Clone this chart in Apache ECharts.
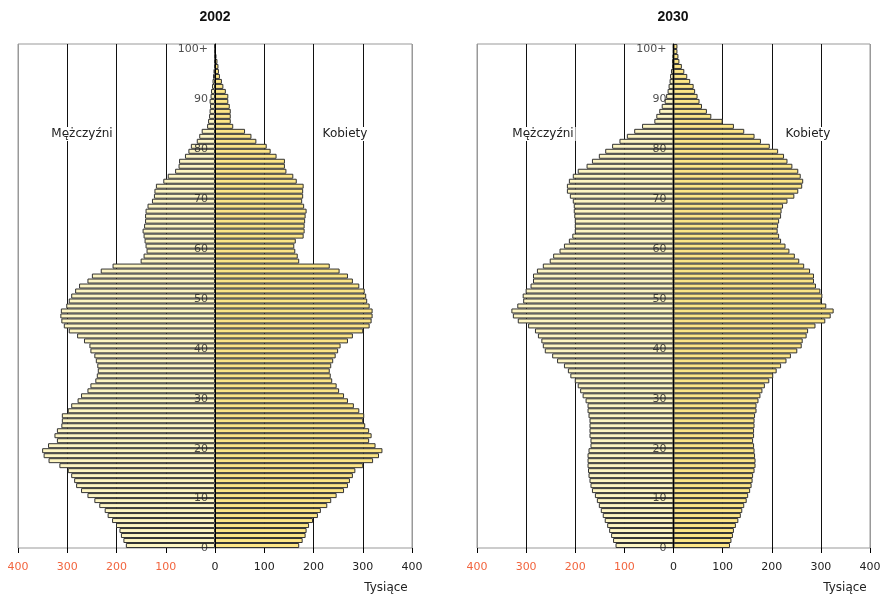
<!DOCTYPE html>
<html><head><meta charset="utf-8">
<script src="https://cdn.jsdelivr.net/npm/echarts@6/dist/echarts.min.js"></script>
<style>html,body{margin:0;padding:0;background:#fff}#c{width:882px;height:595px}</style>
</head><body><div id="c"></div>
<script>
// Age categories (0 .. 99, 100+)
const ages = [];
for (let a = 0; a < 100; a++) ages.push(String(a));
ages.push('100+');
// Age tick labels shown on the axis
const ageTickLabels = ['0','10','20','30','40','50','60','70','80','90','100+'];

// 2002 — men (thousands), ages 0..100+
const men2002 = [181,186,191,194,201,209,218,224,235,245,
  259,272,282,286,292,299,316,338,348,351,
  339,321,326,321,312,311,311,299,292,279,
  272,259,253,243,240,238,239,242,245,253,
  255,266,280,297,307,312,314,313,302,297,
  292,284,276,259,250,232,208,151,145,139,
  141,143,145,147,144,142,142,141,137,128,
  124,123,120,105,96,81,74,73,61,54,
  49,37,32,27,16,14,12,11,10,11,
  9,8,6,5,4,3,2,2,1,1,1];
// 2002 — women
const women2002 = [171,178,184,186,191,199,209,215,228,236,
  247,262,270,274,280,285,301,321,333,340,
  326,313,318,313,305,301,303,293,282,270,
  262,252,247,238,235,233,236,240,245,250,
  255,270,280,301,314,318,320,320,314,309,
  307,304,293,280,270,253,233,171,168,163,
  161,164,180,182,182,183,184,186,181,177,
  179,179,180,166,159,145,142,142,125,113,
  105,84,74,61,37,32,32,32,30,27,
  27,22,17,14,10,8,7,5,3,2,2];
// 2030 — men
const men2030 = [118,123,127,131,135,140,144,148,152,156,
  160,166,169,171,173,174,175,175,175,173,
  169,169,171,171,171,171,173,175,175,179,
  185,190,195,201,210,215,223,237,247,262,
  266,269,276,282,296,317,327,330,318,306,
  307,301,291,286,286,278,266,252,245,232,
  223,213,206,201,201,201,202,203,203,205,
  211,217,217,213,205,195,177,166,152,139,
  125,110,95,80,64,39,35,29,24,18,
  15,12,10,8,7,5,3,3,2,1,1];
// 2030 — women
const women2030 = [115,118,121,123,127,132,137,140,144,149,
  152,156,159,161,162,165,167,167,166,165,
  164,162,164,164,165,165,166,169,169,173,
  177,181,186,195,203,210,219,230,239,252,
  261,263,271,274,289,309,320,326,311,301,
  303,299,290,286,286,278,266,256,247,236,
  228,219,215,212,213,215,219,220,223,232,
  246,254,262,264,259,254,242,232,225,213,
  196,178,165,144,123,100,77,68,58,53,
  49,44,41,34,28,22,17,12,10,8,8];

const years = ['2002', '2030'];
const labelMen = 'Mężczyźni';
const labelWomen = 'Kobiety';
const unitLabel = 'Tysiące';

const FONT = 'DejaVu Sans';
const MEN_COLOR = '#fdf5c2';
const WOMEN_COLOR = '#fce586';

const grids = [
  {left: 18, right: 470, top: 44, bottom: 47},
  {left: 477, right: 12, top: 44, bottom: 47}
];

function xAxis(i) {
  return {
    gridIndex: i, type: 'value', min: -400, max: 400, interval: 100,
    axisLine: {onZero: false, lineStyle: {color: '#000', width: 1}},
    axisTick: {show: true, length: 5, lineStyle: {color: '#000'}},
    axisLabel: {
      margin: 14, fontFamily: FONT, fontSize: 11,
      formatter: v => String(Math.abs(Number(v))),
      color: v => Number(v) < 0 ? '#f2653f' : '#222'
    },
    splitLine: {show: true, lineStyle: {color: ['#999','#111','#111','#111','#111','#111','#111','#111','#999'], width: 1}}
  };
}
function yAxis(i) {
  return {
    gridIndex: i, type: 'category', data: ages, z: 5,
    axisTick: {show: false},
    axisLine: {onZero: true, lineStyle: {color: '#000', width: 1}},
    axisLabel: {show: false},
    splitLine: {show: false}
  };
}
function barSeries(i, values, color, negate) {
  return {
    type: 'bar', xAxisIndex: i, yAxisIndex: i, stack: 'p' + i,
    data: values.map(v => negate ? -v : v),
    barCategoryGap: '0%',
    itemStyle: {color: color, borderColor: '#333', borderWidth: 1},
    emphasis: {disabled: true}
  };
}
function ageLabelSeries(i) {
  return {
    type: 'scatter', xAxisIndex: i, yAxisIndex: i, z: 10, silent: true,
    symbolSize: 0,
    data: ageTickLabels.map(a => [0, a]),
    label: {
      show: true, position: 'left', distance: 7, offset: [0, 3],
      formatter: p => p.value[1],
      fontFamily: FONT, fontSize: 11, color: '#222'
    },
    emphasis: {disabled: true}
  };
}
function txt(x, y, text, opts) {
  return {
    type: 'text', x: x, y: y, z: 100,
    style: Object.assign({
      text: text, align: 'center', verticalAlign: 'middle',
      textAlign: 'center', textVerticalAlign: 'middle',
      font: '12px "' + FONT + '"', fill: '#222'
    }, opts || {})
  };
}

const chart = echarts.init(document.getElementById('c'), null, {renderer: 'canvas'});
chart.setOption({
  animation: false,
  backgroundColor: '#fff',
  grid: grids.map(g => Object.assign({show: true, borderColor: '#999', borderWidth: 1,
    backgroundColor: 'transparent', containLabel: false, outerBoundsMode: 'none'}, g)),
  xAxis: [xAxis(0), xAxis(1)],
  yAxis: [yAxis(0), yAxis(1)],
  series: [
    barSeries(0, men2002, MEN_COLOR, true),
    barSeries(0, women2002, WOMEN_COLOR, false),
    barSeries(1, men2030, MEN_COLOR, true),
    barSeries(1, women2030, WOMEN_COLOR, false),
    ageLabelSeries(0),
    ageLabelSeries(1)
  ],
  graphic: [
    txt(215, 17, years[0], {font: 'bold 14px "Liberation Sans"', fill: '#111'}),
    txt(673, 17, years[1], {font: 'bold 14px "Liberation Sans"', fill: '#111'}),
    txt(82, 134, labelMen, {backgroundColor: '#fff', padding: [1, 2]}),
    txt(345, 134, labelWomen, {backgroundColor: '#fff', padding: [1, 2]}),
    txt(543, 134, labelMen, {backgroundColor: '#fff', padding: [1, 2]}),
    txt(808, 134, labelWomen, {backgroundColor: '#fff', padding: [1, 2]}),
    txt(386, 588, unitLabel),
    txt(845, 588, unitLabel)
  ]
});
</script>
</body></html>
